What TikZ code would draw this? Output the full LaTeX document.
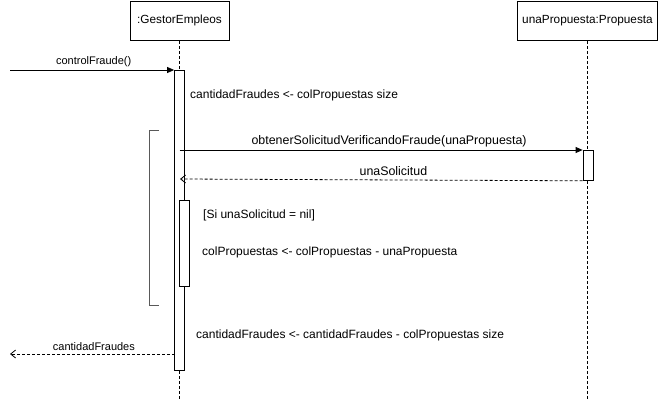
\documentclass[tikz,border=0pt]{standalone}
\usepackage{fontspec}
\setmainfont{Liberation Sans}
\usetikzlibrary{arrows.meta}
\begin{document}
\begin{tikzpicture}[x=1pt,y=-1pt,
  obj/.style={draw,line width=0.8pt,minimum height=39pt,inner sep=0pt,font=\fontsize{11.8}{13}\selectfont},
  life/.style={dash pattern=on 3pt off 2pt,line width=0.8pt},
  actbar/.style={draw,fill=white,line width=0.8pt},
  msg/.style={line width=0.8pt,-{Triangle[length=7pt,width=6pt]}},
  ret/.style={line width=0.8pt,dash pattern=on 3pt off 2pt,-{Straight Barb[length=5pt,width=8pt]}},
  lbl/.style={font=\fontsize{11}{12}\selectfont,inner sep=1pt},
  biglbl/.style={font=\fontsize{12.4}{14}\selectfont,inner sep=1pt},
  note/.style={font=\fontsize{12}{14}\selectfont,inner sep=0pt,anchor=west},
  frag/.style={draw=black!65,line width=0.9pt}]
\useasboundingbox (0,0) rectangle (660,401);

% participants
\node[obj,minimum width=99pt,anchor=north] (ge) at (179.5,1) {:GestorEmpleos};
\node[obj,minimum width=140pt,anchor=north] (pr) at (587.5,1) {unaPropuesta:Propuesta};

% lifelines
\coordinate (geEnd) at (179.5,399);
\coordinate (prEnd) at (587.5,399);
\draw[life] (ge.south) -- (geEnd);
\draw[life] (pr.south) -- (prEnd);

% activations
\node[actbar,minimum width=10pt,minimum height=300pt,inner sep=0pt,anchor=north] (a1) at (179.5,70) {};
\node[actbar,minimum width=10pt,minimum height=30pt,inner sep=0pt,anchor=north] (a2) at (588,150) {};
\node[actbar,minimum width=10pt,minimum height=86pt,inner sep=0pt,anchor=north] (a3) at (184,200) {};

% loop bracket
\coordinate (b1) at (159,130);
\coordinate (b2) at (149,130);
\coordinate (b3) at (149,305);
\coordinate (b4) at (159,305);
\draw[frag] (b1) -- (b2) -- (b3) -- (b4);

% incoming call
\coordinate (src) at (10,70);
\draw[msg] (src) -- (a1.north west) node[lbl,pos=0.51,above=2pt] {controlFraude()};

% call to the proposal
\coordinate (c1) at (179.5,150);
\draw[msg] (c1) -- (a2.north west) node[biglbl,pos=0.52,above=2pt] {obtenerSolicitudVerificandoFraude(unaPropuesta)};

% reply from the proposal
\coordinate (c2) at (180,179);
\draw[ret] (a2.south west) -- (c2) node[biglbl,pos=0.47,above=3pt] {unaSolicitud};

% notes
\node[note] (n1) at (190,95) {cantidadFraudes <- colPropuestas size};
\node[note] (n2) at (203,215) {[Si unaSolicitud = nil]};
\node[note] (n3) at (202,252) {colPropuestas <- colPropuestas - unaPropuesta};
\node[note] (n4) at (196,335) {cantidadFraudes <- cantidadFraudes - colPropuestas size};

% reply to the caller
\coordinate (dst) at (10,354);
\coordinate (r0) at (174.5,354);
\draw[ret] (r0) -- (dst) node[lbl,pos=0.49,above=2pt] {cantidadFraudes};
\end{tikzpicture}
\end{document}
